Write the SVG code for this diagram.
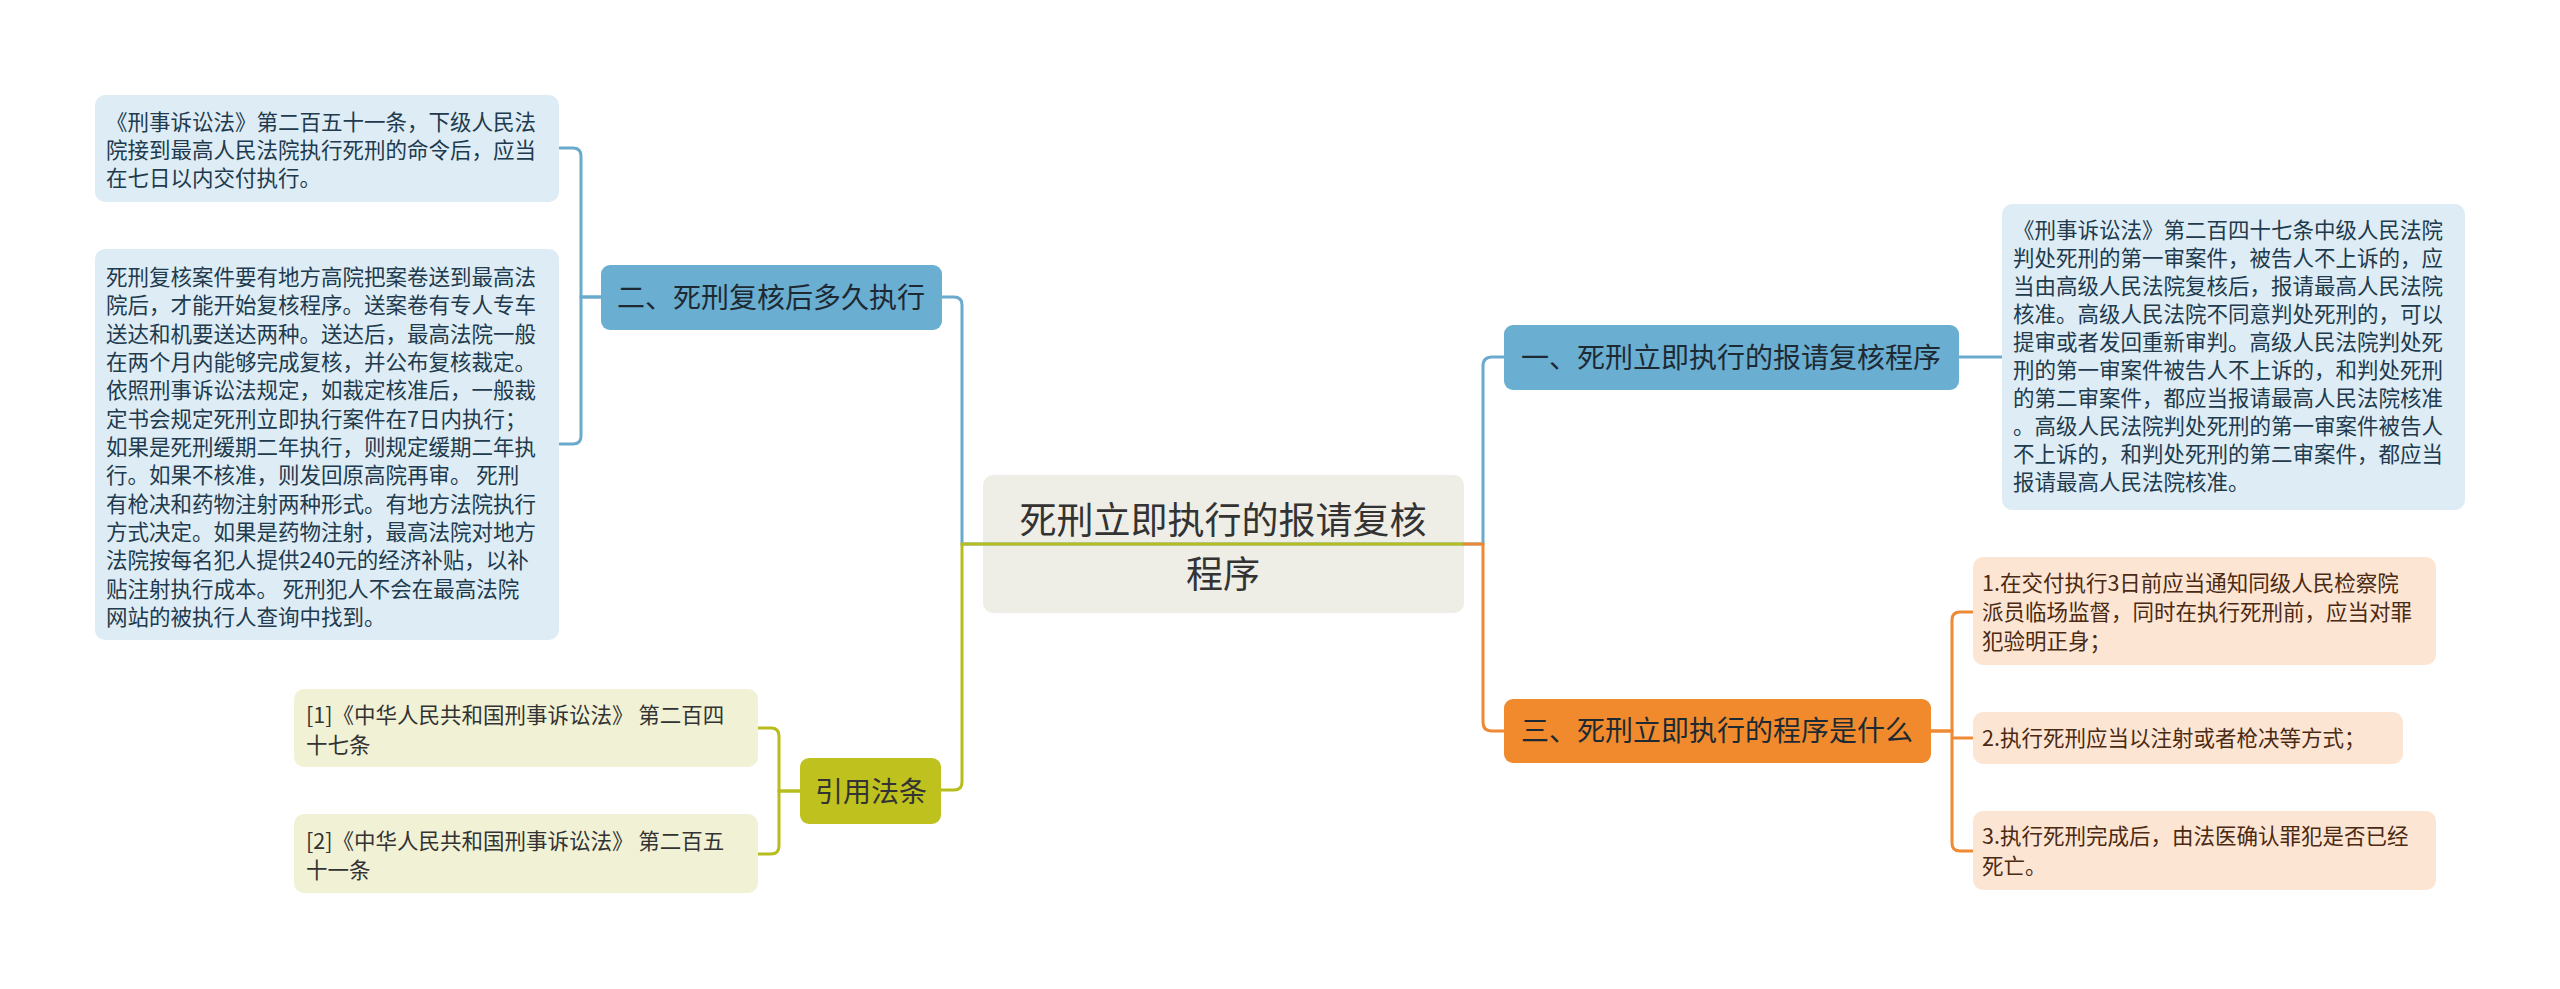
<svg xmlns="http://www.w3.org/2000/svg" width="2560" height="989" viewBox="0 0 2560 989">
<style>
text{font-family:"Microsoft YaHei","Noto Sans CJK SC","Noto Sans",sans-serif}
.root{fill:#eeede6}
.rootT{font-size:37px;fill:#333333;text-anchor:middle}
.bB{fill:#6aaed2}
.bO{fill:#f08a2c}
.bG{fill:#bfc11e}
.bT{font-size:28px;fill:#1e2a33;text-anchor:middle}
.lB{fill:#deedf5}
.lO{fill:#fde5d4}
.lG{fill:#f1f1d6}
.tB{font-size:21.5px;fill:#213a4d}
.tO{font-size:21.5px;fill:#4a2a12}
.tG{font-size:21.5px;fill:#333333}
.cB{fill:none;stroke:#6aabcd;stroke-width:3}
.cO{fill:none;stroke:#ee8a33;stroke-width:3}
.cG{fill:none;stroke:#b8bd1e;stroke-width:3}
</style>
<rect width="2560" height="989" fill="#ffffff"/>

<g id="root">
<rect class="root" x="983" y="475" width="481" height="138" rx="10"/>
<text class="rootT" x="1223" y="534">死刑立即执行的报请复核</text>
<text class="rootT" x="1223" y="588">程序</text>
</g>

<g id="branch1">
<rect class="bB" x="1504" y="325" width="455" height="65" rx="9"/>
<text class="bT" x="1731" y="368">一、死刑立即执行的报请复核程序</text>
</g>

<g id="leaf-r1">
<rect class="lB" x="2002" y="204" width="463" height="306" rx="10"/>
<text class="tB">
<tspan x="2013" y="238">《刑事诉讼法》第二百四十七条中级人民法院</tspan>
<tspan x="2013" y="266">判处死刑的第一审案件，被告人不上诉的，应</tspan>
<tspan x="2013" y="294">当由高级人民法院复核后，报请最高人民法院</tspan>
<tspan x="2013" y="322">核准。高级人民法院不同意判处死刑的，可以</tspan>
<tspan x="2013" y="350">提审或者发回重新审判。高级人民法院判处死</tspan>
<tspan x="2013" y="378">刑的第一审案件被告人不上诉的，和判处死刑</tspan>
<tspan x="2013" y="406">的第二审案件，都应当报请最高人民法院核准</tspan>
<tspan x="2013" y="434">。高级人民法院判处死刑的第一审案件被告人</tspan>
<tspan x="2013" y="462">不上诉的，和判处死刑的第二审案件，都应当</tspan>
<tspan x="2013" y="490">报请最高人民法院核准。</tspan>
</text>
</g>

<g id="branch3">
<rect class="bO" x="1504" y="699" width="427" height="64" rx="9"/>
<text class="bT" x="1717" y="741">三、死刑立即执行的程序是什么</text>
</g>

<g id="leaf-o1">
<rect class="lO" x="1973" y="557" width="463" height="108" rx="10"/>
<text class="tO">
<tspan x="1982" y="591">1.在交付执行3日前应当通知同级人民检察院</tspan>
<tspan x="1982" y="620">派员临场监督，同时在执行死刑前，应当对罪</tspan>
<tspan x="1982" y="649">犯验明正身；</tspan>
</text>
</g>

<g id="leaf-o2">
<rect class="lO" x="1973" y="712" width="430" height="52" rx="10"/>
<text class="tO" x="1982" y="746">2.执行死刑应当以注射或者枪决等方式；</text>
</g>

<g id="leaf-o3">
<rect class="lO" x="1973" y="811" width="463" height="79" rx="10"/>
<text class="tO">
<tspan x="1982" y="844">3.执行死刑完成后，由法医确认罪犯是否已经</tspan>
<tspan x="1982" y="874">死亡。</tspan>
</text>
</g>

<g id="branch2">
<rect class="bB" x="601" y="265" width="341" height="65" rx="9"/>
<text class="bT" x="771" y="308">二、死刑复核后多久执行</text>
</g>

<g id="leaf-b1">
<rect class="lB" x="95" y="95" width="464" height="107" rx="10"/>
<text class="tB">
<tspan x="106" y="130">《刑事诉讼法》第二百五十一条，下级人民法</tspan>
<tspan x="106" y="158">院接到最高人民法院执行死刑的命令后，应当</tspan>
<tspan x="106" y="186">在七日以内交付执行。</tspan>
</text>
</g>

<g id="leaf-b2">
<rect class="lB" x="95" y="249" width="464" height="391" rx="10"/>
<text class="tB">
<tspan x="106" y="285">死刑复核案件要有地方高院把案卷送到最高法</tspan>
<tspan x="106" y="313">院后，才能开始复核程序。送案卷有专人专车</tspan>
<tspan x="106" y="342">送达和机要送达两种。送达后，最高法院一般</tspan>
<tspan x="106" y="370">在两个月内能够完成复核，并公布复核裁定。</tspan>
<tspan x="106" y="398">依照刑事诉讼法规定，如裁定核准后，一般裁</tspan>
<tspan x="106" y="427">定书会规定死刑立即执行案件在7日内执行；</tspan>
<tspan x="106" y="455">如果是死刑缓期二年执行，则规定缓期二年执</tspan>
<tspan x="106" y="483">行。如果不核准，则发回原高院再审。 死刑</tspan>
<tspan x="106" y="512">有枪决和药物注射两种形式。有地方法院执行</tspan>
<tspan x="106" y="540">方式决定。如果是药物注射，最高法院对地方</tspan>
<tspan x="106" y="568">法院按每名犯人提供240元的经济补贴，以补</tspan>
<tspan x="106" y="597">贴注射执行成本。 死刑犯人不会在最高法院</tspan>
<tspan x="106" y="625">网站的被执行人查询中找到。</tspan>
</text>
</g>

<g id="branch-cite">
<rect class="bG" x="800" y="758" width="141" height="66" rx="9"/>
<text class="bT" x="871" y="802" style="fill:#333333">引用法条</text>
</g>

<g id="leaf-g1">
<rect class="lG" x="294" y="689" width="464" height="78" rx="10"/>
<text class="tG">
<tspan x="306" y="723">[1]《中华人民共和国刑事诉讼法》 第二百四</tspan>
<tspan x="306" y="753">十七条</tspan>
</text>
</g>

<g id="leaf-g2">
<rect class="lG" x="294" y="814" width="464" height="79" rx="10"/>
<text class="tG">
<tspan x="306" y="849">[2]《中华人民共和国刑事诉讼法》 第二百五</tspan>
<tspan x="306" y="878">十一条</tspan>
</text>
</g>

<g id="connectors">
<path class="cB" d="M1463,544 H962 V305 Q962,297 954,297 H942"/>
<path class="cG" d="M1463,544 H962 V782 Q962,790 954,790 H941"/>
<path class="cB" d="M1463,544 H1483 V366 Q1483,357 1492,357 H1504"/>
<path class="cO" d="M1463,544 H1483 V722 Q1483,731 1492,731 H1504"/>
<path class="cB" d="M601,297 H581 V156 Q581,148 573,148 H559"/>
<path class="cB" d="M601,297 H581 V436 Q581,444 573,444 H559"/>
<path class="cB" d="M1959,357 H2002"/>
<path class="cO" d="M1931,731 H1952 V620 Q1952,612 1960,612 H1973"/>
<path class="cO" d="M1952,738 H1973"/>
<path class="cO" d="M1931,731 H1952 V843 Q1952,851 1960,851 H1973"/>
<path class="cG" d="M800,791 H779 V736 Q779,728 771,728 H758"/>
<path class="cG" d="M800,791 H779 V846 Q779,854 771,854 H758"/>
</g>
</svg>
